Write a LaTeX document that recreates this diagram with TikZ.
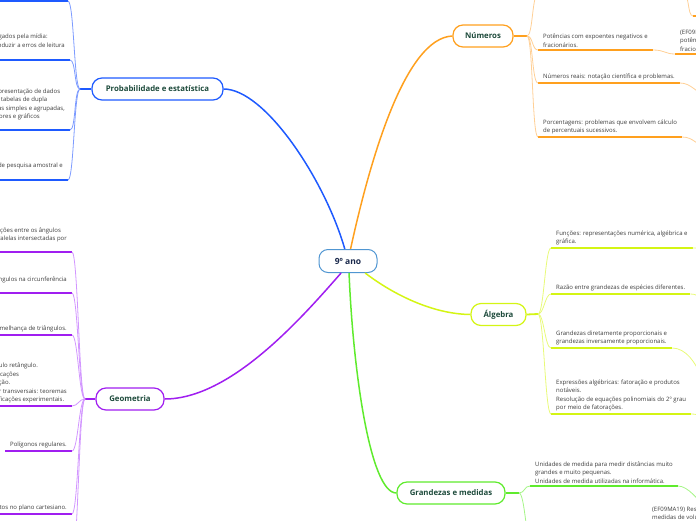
\documentclass[tikz,border=0pt]{standalone}
\usepackage{fontspec}
\setmainfont{Open Sans}
\usetikzlibrary{positioning, calc}
\definecolor{probblue}{RGB}{30, 90, 255}
\definecolor{problight}{RGB}{125, 155, 255}
\definecolor{geopurple}{RGB}{160, 30, 240}
\definecolor{geolight}{RGB}{210, 150, 255}
\definecolor{numorange}{RGB}{255, 160, 30}
\definecolor{numlight}{RGB}{255, 208, 150}
\definecolor{alglime}{RGB}{212, 245, 20}
\definecolor{alglight}{RGB}{232, 250, 120}
\definecolor{gragreen}{RGB}{95, 235, 45}
\definecolor{gralight}{RGB}{165, 245, 135}
\definecolor{rootblue}{RGB}{80, 150, 210}
\definecolor{rootnavy}{RGB}{25, 40, 75}
\definecolor{labelgreen}{RGB}{30, 75, 60}
\definecolor{leafgray}{RGB}{60, 60, 60}
\tikzset{
  rootbox/.style={draw=rootblue, line width=1pt, fill=white, rounded corners=9pt,
    minimum width=58pt, minimum height=23pt, inner sep=0pt,
    font=\fontsize{8.5}{10}\selectfont\bfseries, text=rootnavy},
  topicbox/.style={draw=#1, line width=1.2pt, fill=white, rounded corners=10pt,
    minimum height=22pt, inner sep=0pt,
    font=\fontsize{7.8}{9}\selectfont\bfseries, text=labelgreen},
  leaf/.style={align=left, inner xsep=5pt, inner ysep=2.5pt,
    font=\fontsize{6}{8.5}\selectfont, text=leafgray},
  leafline/.style={line width=1.8pt, #1},
  twig/.style={line width=0.8pt, #1},
  bough/.style={line width=1.5pt, #1},
}
\begin{document}
\begin{tikzpicture}[x=1pt, y=-1pt]
  \clip[use as bounding box] (0,0) rectangle (696,520);

  % center and topics
  \node[rootbox] (ano9) at (348,261) {9º ano};
  \node[topicbox=probblue, minimum width=131pt] (prob) at (157.5,89) {Probabilidade e estatística};
  \node[topicbox=geopurple, minimum width=68pt] (geo) at (130,399) {Geometria};
  \node[topicbox=numorange, minimum width=60pt] (num) at (483,36) {Números};
  \node[topicbox=alglime, minimum width=55pt] (alg) at (498.5,314.5) {Álgebra};
  \node[topicbox=gragreen, minimum width=108pt] (gra) at (451,493) {Grandezas e medidas};

  \draw[bough=probblue] (ano9.105) .. controls (325,180) and (265,89) .. (prob.east);
  \draw[bough=numorange] (ano9.78) .. controls (370,160) and (405,38) .. (num.west);
  \draw[bough=alglime] (ano9.-35) .. controls (390,292) and (430,314) .. (alg.west);
  \draw[bough=geopurple] (ano9.-120) .. controls (300,320) and (230,399) .. (geo.east);
  \draw[bough=gragreen] (ano9.-85) .. controls (353,370) and (370,493) .. (gra.west);

  % Probabilidade e estatistica
  \coordinate (probj) at (80,89);
  \coordinate (b1e) at (68,1);
  \draw[leafline=probblue] (prob.west) -- (probj);
  \draw[leafline=probblue] (b1e) -- ++(-90,0);
  \node[leaf, anchor=south east] (b2) at (70,60) {Análise de gráficos divulgados pela mídia:\\elementos que podem induzir a erros de leitura\\ou de interpretação.};
  \node[leaf, anchor=south east] (b3) at (70,130) {Leitura, interpretação e representação de dados\\de pesquisa expressos em tabelas de dupla\\entrada, gráficos de colunas simples e agrupadas,\\gráficos de barras e de setores e gráficos\\de linhas.};
  \node[leaf, anchor=south east] (b4) at (68,180) {Planejamento e execução de pesquisa amostral e\\apresentação de relatório};
  \draw[leafline=probblue] (b2.south west) -- (b2.south east);
  \draw[leafline=probblue] (b3.south west) -- (b3.south east);
  \draw[leafline=probblue] (b4.south west) -- (b4.south east);
  \draw[twig=problight] (probj) .. controls +(-6,0) and +(6,0) .. (b1e);
  \draw[twig=problight] (probj) .. controls +(-6,0) and +(6,0) .. (b2.south east);
  \draw[twig=problight] (probj) .. controls +(-6,0) and +(6,0) .. (b3.south east);
  \draw[twig=problight] (probj) .. controls +(-6,0) and +(6,0) .. (b4.south east);

  % Geometria
  \coordinate (geoj) at (85,399);
  \coordinate (p7e) at (72,560);
  \draw[leafline=geopurple] (geo.west) -- (geoj);
  \node[leaf, anchor=south east] (p1) at (72,252) {Demonstrações de relações entre os ângulos\\formados por retas paralelas intersectadas por\\uma transversal.};
  \node[leaf, anchor=south east] (p2) at (72,293) {Relações entre arcos e ângulos na circunferência\\de um círculo.};
  \node[leaf, anchor=south east] (p3) at (72,335) {Semelhança de triângulos.};
  \node[leaf, anchor=south east] (p4) at (72,406) {Relações métricas no triângulo retângulo.\\Teorema de Pitágoras: verificações\\experimentais e demonstração.\\Retas paralelas cortadas por transversais: teoremas\\de proporcionalidade e verificações experimentais.};
  \node[leaf, anchor=south east] (p5) at (72,451) {Polígonos regulares.};
  \node[leaf, anchor=south east] (p6) at (72,514) {Distância entre pontos no plano cartesiano.};
  \draw[leafline=geopurple] (p1.south west) -- (p1.south east);
  \draw[leafline=geopurple] (p2.south west) -- (p2.south east);
  \draw[leafline=geopurple] (p3.south west) -- (p3.south east);
  \draw[leafline=geopurple] (p4.south west) -- (p4.south east);
  \draw[leafline=geopurple] (p5.south west) -- (p5.south east);
  \draw[leafline=geopurple] (p6.south west) -- (p6.south east);
  \draw[twig=geolight] (geoj) .. controls +(-6,0) and +(6,0) .. (p1.south east);
  \draw[twig=geolight] (geoj) .. controls +(-6,0) and +(6,0) .. (p2.south east);
  \draw[twig=geolight] (geoj) .. controls +(-6,0) and +(6,0) .. (p3.south east);
  \draw[twig=geolight] (geoj) .. controls +(-6,0) and +(6,0) .. (p4.south east);
  \draw[twig=geolight] (geoj) .. controls +(-6,0) and +(6,0) .. (p5.south east);
  \draw[twig=geolight] (geoj) .. controls +(-6,0) and +(6,0) .. (p6.south east);
  \draw[twig=geolight] (geoj) .. controls +(-6,0) and +(6,0) .. (p7e);

  % Numeros
  \coordinate (numj) at (527,36);
  \coordinate (o0s) at (538,-6);
  \coordinate (o0e) at (682,-8);
  \coordinate (o0a) at (693,16);
  \draw[leafline=numorange] (num.east) -- (numj);
  \draw[leafline=numorange] (o0s) -- (o0e);
  \draw[leafline=numorange] (o0a) -- ++(10,0);
  \node[leaf, anchor=south west] (o1) at (538,50) {Potências com expoentes negativos e\\fracionários.};
  \node[leaf, anchor=south west] (o1a) at (675,54) {(EF09MA03) Efetuar cálculos com números reais,\\potências com expoentes negativos e\\fracionários.};
  \node[leaf, anchor=south west] (o2) at (538,83) {Números reais: notação científica e problemas.};
  \node[leaf, anchor=south west] (o3) at (538,137) {Porcentagens: problemas que envolvem cálculo\\de percentuais sucessivos.};
  \coordinate (o2x) at (706,94);
  \coordinate (o3x) at (706,146);
  \draw[leafline=numorange] (o1.south west) -- (o1.south east);
  \draw[leafline=numorange] (o1a.south west) -- (o1a.south east);
  \draw[leafline=numorange] (o2.south west) -- (o2.south east);
  \draw[leafline=numorange] (o3.south west) -- (o3.south east);
  \draw[twig=numlight] (numj) .. controls +(6,0) and +(-6,0) .. (o0s);
  \draw[twig=numlight] (numj) .. controls +(6,0) and +(-6,0) .. (o1.south west);
  \draw[twig=numlight] (numj) .. controls +(6,0) and +(-6,0) .. (o2.south west);
  \draw[twig=numlight] (numj) .. controls +(6,0) and +(-6,0) .. (o3.south west);
  \draw[twig=numlight] (o0e) .. controls +(8,0) and +(-6,0) .. (o0a);
  \draw[twig=numlight] (o1.south east) .. controls +(12,0) and +(-10,0) .. (o1a.south west);
  \draw[twig=numlight] (o2.south east) .. controls +(12,0) and +(-10,0) .. (o2x);
  \draw[twig=numlight] (o3.south east) .. controls +(12,0) and +(-10,0) .. (o3x);

  % Algebra
  \coordinate (algj) at (538,314);
  \draw[leafline=alglime] (alg.east) -- (algj);
  \node[leaf, anchor=south west] (a1) at (551,248) {Funções: representações numérica, algébrica e\\gráfica.};
  \node[leaf, anchor=south west] (a2) at (551,294) {Razão entre grandezas de espécies diferentes.};
  \node[leaf, anchor=south west] (a3) at (551,348) {Grandezas diretamente proporcionais e\\grandezas inversamente proporcionais.};
  \node[leaf, anchor=south west] (a4) at (551,414) {Expressões algébricas: fatoração e produtos\\notáveis.\\Resolução de equações polinomiais do 2º grau\\por meio de fatorações.};
  \coordinate (a1x) at (706,250);
  \coordinate (a2x) at (706,300);
  \coordinate (a3x) at (700,374);
  \coordinate (a4x) at (706,418);
  \draw[leafline=alglime] (a1.south west) -- (a1.south east);
  \draw[leafline=alglime] (a2.south west) -- (a2.south east);
  \draw[leafline=alglime] (a3.south west) -- (a3.south east);
  \draw[leafline=alglime] (a4.south west) -- (a4.south east);
  \draw[twig=alglight] (algj) .. controls +(6,0) and +(-6,0) .. (a1.south west);
  \draw[twig=alglight] (algj) .. controls +(6,0) and +(-6,0) .. (a2.south west);
  \draw[twig=alglight] (algj) .. controls +(6,0) and +(-6,0) .. (a3.south west);
  \draw[twig=alglight] (algj) .. controls +(6,0) and +(-6,0) .. (a4.south west);
  \draw[twig=alglight] (a1.south east) .. controls +(10,0) and +(-8,0) .. (a1x);
  \draw[twig=alglight] (a2.south east) .. controls +(10,0) and +(-8,0) .. (a2x);
  \draw[twig=alglight] (a3.south east) .. controls +(14,0) and +(-4,-10) .. (a3x);
  \draw[twig=alglight] (a4.south east) .. controls +(10,0) and +(-8,0) .. (a4x);

  % Grandezas e medidas
  \coordinate (graj) at (519,493);
  \coordinate (g2e) at (532,545);
  \coordinate (g1x) at (704,506);
  \draw[leafline=gragreen] (gra.east) -- (graj);
  \node[leaf, anchor=south west] (g1) at (530,486) {Unidades de medida para medir distâncias muito\\grandes e muito pequenas.\\Unidades de medida utilizadas na informática.};
  \node[leaf, anchor=north west] (g2a) at (647,504) {(EF09MA19) Resolver e elaborar problemas que envolvam\\medidas de volumes de prismas e de cilindros retos};
  \draw[leafline=gragreen] (g1.south west) -- (g1.south east);
  \draw[twig=gralight] (graj) .. controls +(6,0) and +(-6,0) .. (g1.south west);
  \draw[twig=gralight] (graj) .. controls +(6,0) and +(-6,0) .. (g2e);
  \draw[twig=gralight] (g1.south east) .. controls +(10,0) and +(-6,-6) .. (g1x);
\end{tikzpicture}
\end{document}
